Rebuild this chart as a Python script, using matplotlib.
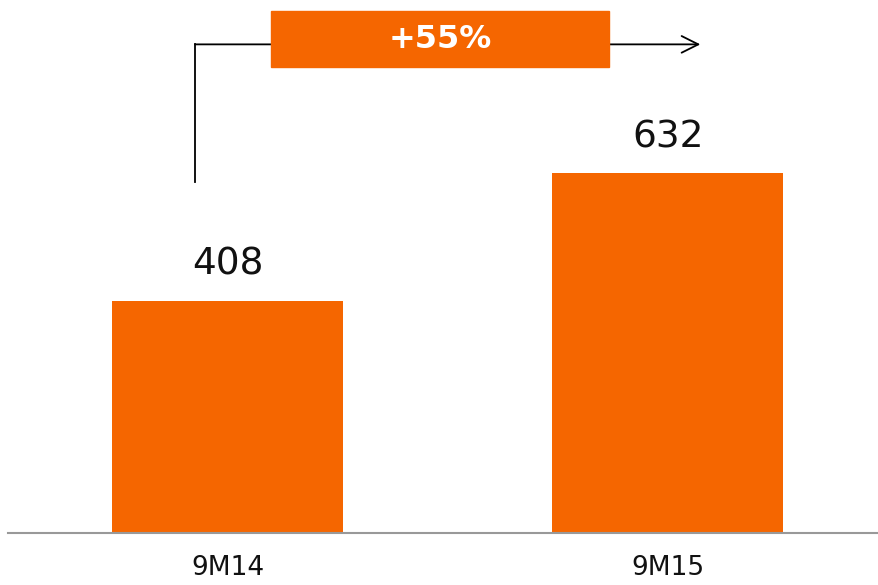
import matplotlib
matplotlib.use("Agg")
import matplotlib.pyplot as plt
from matplotlib.patches import Rectangle

categories = ["9M14", "9M15"]
values = [408, 632]
growth_label = "+55%"

ORANGE = "#F56600"

fig = plt.figure(figsize=(8.79, 5.85), dpi=100)
ax = fig.add_axes([8/879, 52/585, 871/879, 533/585])
x = list(range(len(categories)))
ax.bar(x, values, width=0.525, color=ORANGE, zorder=2)
ax.set_xlim(-0.499, 1.48)
ax.set_ylim(0, 937)

for xi, v in zip(x, values):
    ax.text(xi, v + 64, str(v), ha="center", va="center", fontsize=27, color="#111111")

for s in ["top", "right", "left"]:
    ax.spines[s].set_visible(False)
ax.spines["bottom"].set_color("#999999")
ax.spines["bottom"].set_linewidth(1.5)
ax.set_yticks([])
ax.set_xticks(x)
ax.set_xticklabels(categories, fontsize=19, color="#111111")
ax.tick_params(axis="x", length=0, pad=16)

# growth arrow
ax.plot([-0.074, -0.074], [617, 859], color="black", lw=1.3, clip_on=False)
ax.annotate("", xy=(1.074, 859), xytext=(-0.074, 859),
            arrowprops=dict(arrowstyle="->", color="black", lw=1.3,
                            shrinkA=0, shrinkB=0, mutation_scale=30),
            annotation_clip=False)
ax.add_patch(Rectangle((0.099, 819), 0.768, 98, color=ORANGE, zorder=3, clip_on=False))
ax.text(0.483, 868, growth_label, ha="center", va="center", fontsize=23,
        color="white", fontweight="bold", zorder=4)

fig.savefig("out.png", dpi=100)
